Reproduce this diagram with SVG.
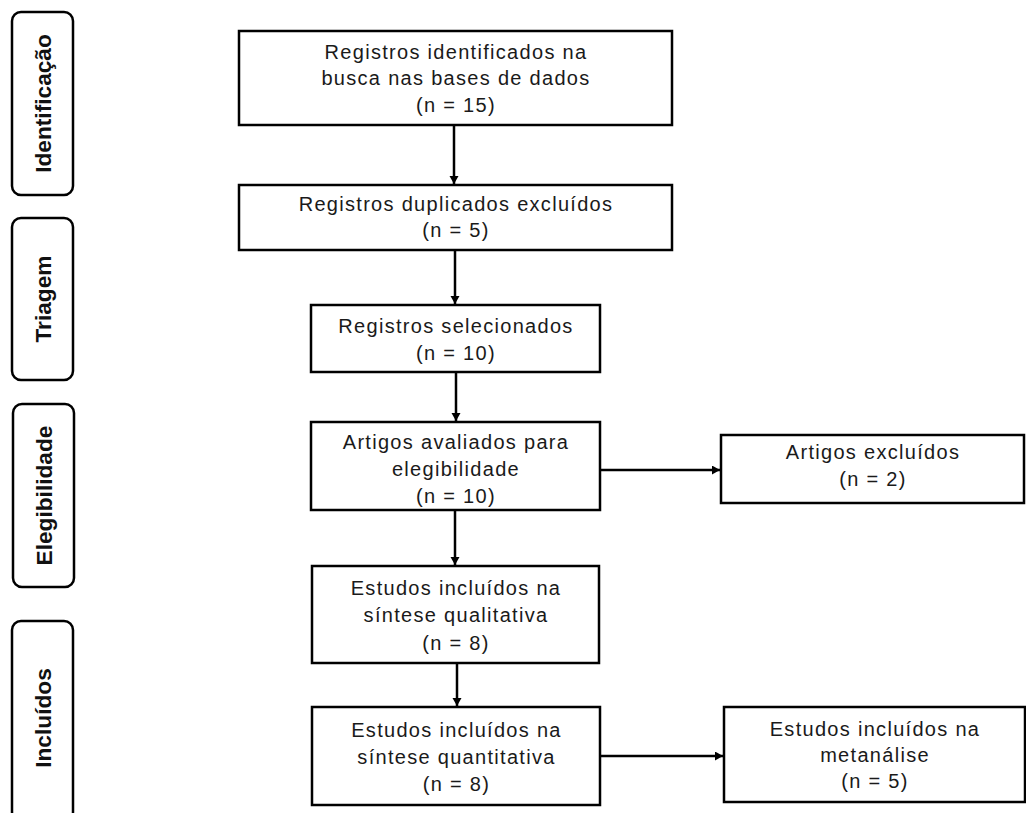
<svg xmlns="http://www.w3.org/2000/svg" width="1026" height="813" viewBox="0 0 1026 813">
<defs>
<marker id="ah" markerUnits="userSpaceOnUse" markerWidth="10" markerHeight="10" refX="8" refY="4.5" orient="auto">
<path d="M0,0 L8,4.5 L0,9 z" fill="#000"/>
</marker>
<style>
.box{fill:#fff;stroke:#000;stroke-width:2.5}
.side{fill:#fff;stroke:#000;stroke-width:2.5}
.t{font-family:"Liberation Sans",Arial,sans-serif;font-size:20px;letter-spacing:1.3px;fill:#1a1a1a;text-anchor:middle}
.s{font-family:"Liberation Sans",Arial,sans-serif;font-size:22.7px;font-weight:bold;fill:#111;text-anchor:middle}
.c{stroke:#000;stroke-width:2.5;fill:none;marker-end:url(#ah)}
</style>
</defs>
<rect width="1026" height="813" fill="#fff"/>
<g id="stage-identificacao">
<rect class="side" x="12" y="12" width="61" height="183" rx="9"/>
<text class="s" transform="translate(51,103.5) rotate(-90)">Identificação</text>
</g>
<g id="stage-triagem">
<rect class="side" x="12" y="218" width="61" height="162" rx="9"/>
<text class="s" transform="translate(51,299) rotate(-90)">Triagem</text>
</g>
<g id="stage-elegibilidade">
<rect class="side" x="13" y="404" width="61" height="183" rx="9"/>
<text class="s" transform="translate(52,495.5) rotate(-90)">Elegibilidade</text>
</g>
<g id="stage-incluidos">
<rect class="side" x="12" y="621" width="61" height="200" rx="9"/>
<text class="s" transform="translate(51,718) rotate(-90)">Incluídos</text>
</g>
<g id="connectors">
<line class="c" x1="454" y1="125" x2="454" y2="184"/>
<line class="c" x1="455" y1="250" x2="455" y2="304"/>
<line class="c" x1="456" y1="372" x2="456" y2="421"/>
<line class="c" x1="455" y1="510" x2="455" y2="565"/>
<line class="c" x1="457" y1="663" x2="457" y2="706"/>
<line class="c" x1="600" y1="470" x2="720" y2="470"/>
<line class="c" x1="600" y1="756" x2="723" y2="756"/>
</g>
<g id="n1">
<rect class="box" x="239" y="31" width="433" height="94"/>
<text class="t" x="456" y="58.5">Registros identificados na</text>
<text class="t" x="456" y="85">busca nas bases de dados</text>
<text class="t" x="456" y="111.5">(n = 15)</text>
</g>
<g id="n2">
<rect class="box" x="239" y="185" width="433" height="65"/>
<text class="t" x="456" y="211">Registros duplicados excluídos</text>
<text class="t" x="456" y="237">(n = 5)</text>
</g>
<g id="n3">
<rect class="box" x="311" y="305" width="289" height="67"/>
<text class="t" x="456" y="333">Registros selecionados</text>
<text class="t" x="456" y="359.5">(n = 10)</text>
</g>
<g id="n4">
<rect class="box" x="311" y="422" width="289" height="88"/>
<text class="t" x="456" y="449">Artigos avaliados para</text>
<text class="t" x="456" y="476">elegibilidade</text>
<text class="t" x="456" y="503">(n = 10)</text>
</g>
<g id="n5">
<rect class="box" x="721" y="435" width="303" height="68"/>
<text class="t" x="873" y="459">Artigos excluídos</text>
<text class="t" x="873" y="486">(n = 2)</text>
</g>
<g id="n6">
<rect class="box" x="312" y="566" width="287" height="97"/>
<text class="t" x="456" y="595">Estudos incluídos na</text>
<text class="t" x="456" y="622">síntese qualitativa</text>
<text class="t" x="456" y="649.5">(n = 8)</text>
</g>
<g id="n7">
<rect class="box" x="312" y="707" width="288" height="98"/>
<text class="t" x="456.5" y="736.5">Estudos incluídos na</text>
<text class="t" x="456.5" y="763.5">síntese quantitativa</text>
<text class="t" x="456.5" y="790.5">(n = 8)</text>
</g>
<g id="n8">
<rect class="box" x="724" y="707" width="301" height="95"/>
<text class="t" x="875" y="736">Estudos incluídos na</text>
<text class="t" x="875" y="762">metanálise</text>
<text class="t" x="875" y="788">(n = 5)</text>
</g>
</svg>
